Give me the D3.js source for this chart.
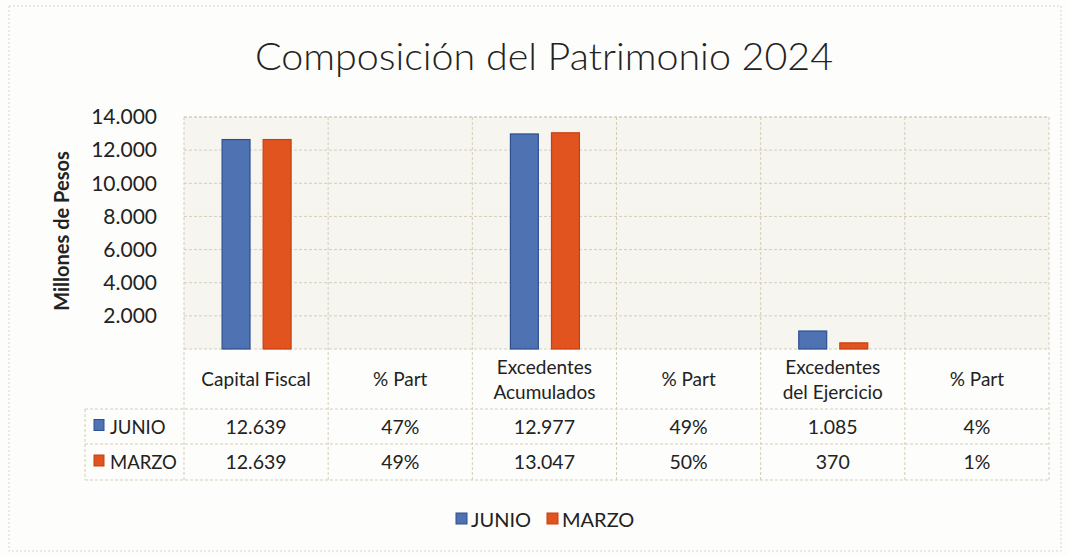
<!DOCTYPE html>
<html>
<head>
<meta charset="utf-8">
<script src="https://cdn.jsdelivr.net/npm/d3@7"></script>
<style>
  body { margin: 0; background: #fdfdfb; }
  text { font-family: Lato, "Open Sans", sans-serif; fill: #222; }
</style>
</head>
<body>
<div id="chart"></div>
<script>
// categories, one table column each
var categories = ['Capital Fiscal', '% Part', 'Excedentes\nAcumulados', '% Part', 'Excedentes\ndel Ejercicio', '% Part']
var series = ['JUNIO', 'MARZO']
var junio = [12639, 0.47, 12977, 0.49, 1085, 0.04]
var marzo = [12639, 0.49, 13047, 0.50, 370, 0.01]
var yTicks = [2000, 4000, 6000, 8000, 10000, 12000, 14000]
var colors = ['#4e72b2', '#e1531f']
var strokes = ['#2e4f92', '#c8400f']

var width = 1068, height = 556
var svg = d3.select('#chart').append('svg').attr('width', width).attr('height', height)

var loc = d3.formatLocale({decimal: ',', thousands: '.', grouping: [3], currency: ['$', '']})
var fNum = loc.format(',d')
var fPct = loc.format('.0%')
function fmt(v){ return v < 1 ? fPct(v) : fNum(v) }

var plot = {left: 184, right: 1049, top: 117, bottom: 349}
var rows = [349, 409, 444, 480]
var labelLeft = 85

// outer frame
svg.append('rect').attr('x', 9).attr('y', 6).attr('width', 1052).attr('height', 545)
  .attr('fill', 'none').attr('stroke', '#d9d4c8').attr('stroke-dasharray', '2,2')

svg.append('text').attr('x', 544).attr('y', 70).attr('text-anchor', 'middle')
  .style('font-size', '37px').style('font-weight', 300)
  .attr('textLength', 578).attr('lengthAdjust', 'spacingAndGlyphs')
  .text('Composición del Patrimonio 2024')

var x0 = d3.scaleBand().domain(d3.range(categories.length)).range([plot.left, plot.right])
var bw = x0.bandwidth()
var x1 = d3.scaleBand().domain(series).range([bw / 2 - 34, bw / 2 + 35]).paddingInner(0.32)
var y = d3.scaleLinear().domain([0, 14000]).range([plot.bottom, plot.top])

// plot background
svg.append('rect').attr('x', plot.left).attr('y', plot.top)
  .attr('width', plot.right - plot.left).attr('height', plot.bottom - plot.top)
  .attr('fill', '#f6f5f0')

var gridColor = '#d5cdb8'
svg.append('g').selectAll('line').data(yTicks).join('line')
  .attr('x1', plot.left).attr('x2', plot.right)
  .attr('y1', function(d){ return y(d) }).attr('y2', function(d){ return y(d) })
  .attr('stroke', gridColor).attr('stroke-dasharray', '3,2')

// vertical column lines through plot and table
var vx = d3.range(categories.length + 1).map(function(i){ return i < categories.length ? x0(i) : plot.right })
svg.append('g').selectAll('line').data(vx).join('line')
  .attr('x1', function(d){ return d }).attr('x2', function(d){ return d })
  .attr('y1', plot.top).attr('y2', rows[3])
  .attr('stroke', gridColor).attr('stroke-dasharray', '3,2')

// table horizontal lines
svg.append('g').selectAll('line').data(rows).join('line')
  .attr('x1', function(d, i){ return i === 0 ? plot.left : labelLeft }).attr('x2', plot.right)
  .attr('y1', function(d){ return d }).attr('y2', function(d){ return d })
  .attr('stroke', gridColor).attr('stroke-dasharray', '3,2')
svg.append('line').attr('x1', labelLeft).attr('x2', labelLeft).attr('y1', rows[1]).attr('y2', rows[3])
  .attr('stroke', gridColor).attr('stroke-dasharray', '3,2')
svg.append('line').attr('x1', plot.left).attr('x2', plot.right).attr('y1', plot.top).attr('y2', plot.top)
  .attr('stroke', gridColor).attr('stroke-dasharray', '3,2')

// bars (the % Part values are too small to show on this scale)
var allSeries = [junio, marzo]
series.forEach(function(s, si){
  svg.append('g').selectAll('rect').data(allSeries[si]).join('rect')
    .attr('x', function(d, i){ return x0(i) + x1(s) })
    .attr('y', function(d){ return y(d) })
    .attr('width', x1.bandwidth())
    .attr('height', function(d){ return y(0) - y(d) })
    .attr('fill', colors[si])
    .attr('stroke', function(d){ return y(0) - y(d) < 1 ? 'none' : strokes[si] })
    .attr('stroke-width', 1.2)
})

// y axis
var yAxis = svg.append('g').attr('transform', 'translate(157,0)')
  .call(d3.axisLeft(y).tickValues(yTicks).tickFormat(fNum).tickSize(0).tickPadding(0))
yAxis.select('.domain').remove()
yAxis.selectAll('text').style('font-size', '21px').style('font-family', 'Lato, sans-serif').attr('fill', '#222')

svg.append('text').attr('transform', 'translate(69,231) rotate(-90)').attr('text-anchor', 'middle')
  .style('font-size', '20px').style('font-weight', 'bold').text('Millones de Pesos')

// table header
var head = svg.append('g').selectAll('text').data(categories).join('text')
  .attr('x', function(d, i){ return x0(i) + bw / 2 })
  .attr('text-anchor', 'middle').style('font-size', '19px')
head.each(function(d){
  var lines = d.split('\n')
  var sel = d3.select(this)
  lines.forEach(function(l, j){
    sel.append('tspan').attr('x', sel.attr('x'))
      .attr('y', 386 + (j - (lines.length - 1) / 2) * 25).text(l)
  })
})

// table rows
series.forEach(function(s, si){
  var cy = (rows[si + 1] + rows[si + 2]) / 2 + 7
  svg.append('rect').attr('x', 94).attr('y', cy - 14).attr('width', 10).attr('height', 11)
    .attr('fill', colors[si]).attr('stroke', strokes[si])
  svg.append('text').attr('x', 110).attr('y', cy).style('font-size', '18.5px').text(s)
  svg.append('g').selectAll('text').data(allSeries[si]).join('text')
    .attr('x', function(d, i){ return x0(i) + bw / 2 }).attr('y', cy)
    .attr('text-anchor', 'middle').style('font-size', '19.5px')
    .text(fmt)
})

// legend
var lx = [456, 547]
series.forEach(function(s, si){
  svg.append('rect').attr('x', lx[si]).attr('y', 513).attr('width', 11).attr('height', 11)
    .attr('fill', colors[si]).attr('stroke', strokes[si])
  svg.append('text').attr('x', lx[si] + 15).attr('y', 527).style('font-size', '20px').text(s)
})
</script>
</body>
</html>
